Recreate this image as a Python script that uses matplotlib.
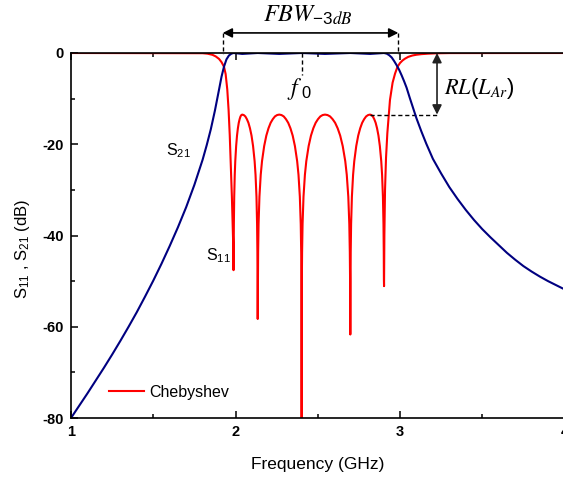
import matplotlib
matplotlib.use('Agg')
import matplotlib.pyplot as plt
from matplotlib.ticker import MultipleLocator

plt.rcParams['font.family'] = ['Liberation Sans', 'DejaVu Sans']
plt.rcParams['mathtext.default'] = 'regular'
plt.rcParams['axes.unicode_minus'] = False

# S21 (GHz, dB)
s21_freq = [1.0, 1.05, 1.10, 1.15, 1.20, 1.25, 1.30, 1.35, 1.40, 1.45, 1.50, 1.55, 1.60,
            1.65, 1.70, 1.75, 1.80, 1.825, 1.85, 1.875, 1.90, 1.915, 1.93, 1.945, 1.96,
            1.975, 1.988, 2.041, 2.135, 2.266, 2.402, 2.544, 2.698, 2.818, 2.903,
            2.92, 2.935, 2.95, 2.965, 2.98, 2.995, 3.01, 3.025, 3.04, 3.06, 3.08, 3.10,
            3.13, 3.16, 3.20, 3.25, 3.30, 3.35, 3.40, 3.45, 3.50, 3.55, 3.60, 3.65,
            3.70, 3.75, 3.80, 3.85, 3.90, 3.95, 4.0]
s21_db = [-80.0, -77.3, -74.6, -71.8, -69.0, -66.1, -63.1, -60.0, -56.8, -53.4, -49.9, -46.2, -42.3,
          -38.2, -33.8, -28.9, -23.4, -20.2, -16.7, -12.6, -8.0, -5.2, -3.0, -1.4, -0.55,
          -0.15, 0.0, -0.2, 0.0, -0.2, 0.0, -0.2, 0.0, -0.2, 0.0,
          -0.15, -0.5, -1.0, -1.8, -2.7, -3.7, -4.9, -6.2, -7.6, -9.9, -12.1, -14.3,
          -17.2, -19.9, -23.2, -26.4, -29.4, -32.0, -34.4, -36.6, -38.6, -40.4, -42.1, -43.8,
          -45.3, -46.7, -47.9, -49.0, -50.0, -50.9, -51.8]

# S11 (GHz, dB)
s11_freq = [1.0, 1.8, 1.83, 1.86, 1.88, 1.90, 1.915, 1.93, 1.94, 1.95, 1.958, 1.965,
            1.972, 1.978, 1.983, 1.9865, 1.988,
            1.9891, 1.9901, 1.9922, 1.9954, 1.9986, 2.0039, 2.0092, 2.0145, 2.0198,
            2.0251, 2.0304, 2.0357, 2.041,
            2.0504, 2.0598, 2.0692, 2.0786, 2.088, 2.0974, 2.1068, 2.1162, 2.1218,
            2.1275, 2.1312, 2.1331, 2.1341, 2.135,
            2.1363, 2.1376, 2.1402, 2.1455, 2.1533, 2.1612, 2.1743, 2.1874, 2.2005,
            2.2136, 2.2267, 2.2398, 2.2529, 2.266,
            2.2796, 2.2932, 2.3068, 2.3204, 2.334, 2.3476, 2.3612, 2.3748, 2.383,
            2.3911, 2.3966, 2.3993, 2.4006, 2.402,
            2.4034, 2.4048, 2.4077, 2.4134, 2.4219, 2.4304, 2.4446, 2.4588, 2.473,
            2.4872, 2.5014, 2.5156, 2.5298, 2.544,
            2.5594, 2.5748, 2.5902, 2.6056, 2.621, 2.6364, 2.6518, 2.6672, 2.6764,
            2.6857, 2.6918, 2.6949, 2.6965, 2.698,
            2.6992, 2.7004, 2.7028, 2.7076, 2.7148, 2.722, 2.734, 2.746, 2.758,
            2.770, 2.782, 2.794, 2.806, 2.818,
            2.8265, 2.835, 2.8435, 2.852, 2.8605, 2.869, 2.8775, 2.886, 2.8911,
            2.8962, 2.8996, 2.9013, 2.9021, 2.903,
            2.9039, 2.905, 2.909, 2.915, 2.923, 2.939, 2.955, 2.97, 2.985, 3.0,
            3.015, 3.03, 3.05, 3.075, 3.10, 3.13, 3.17, 3.22, 3.30, 4.0]
s11_db = [0.0, -0.05, -0.15, -0.4, -0.75, -1.3, -2.0, -3.0, -4.6, -8.0, -12.5, -18.0,
          -25.0, -31.5, -37.5, -42.5, -47.6,
          -43.6, -37.5, -31.5, -26.7, -23.7, -20.4, -18.1, -16.5, -15.3,
          -14.5, -13.9, -13.6, -13.5,
          -13.6, -13.9, -14.5, -15.3, -16.5, -18.1, -20.4, -23.7, -26.7,
          -31.5, -37.5, -43.6, -49.6, -58.3,
          -49.6, -43.6, -37.5, -31.5, -26.7, -23.7, -20.4, -18.1, -16.5,
          -15.3, -14.5, -13.9, -13.6, -13.5,
          -13.6, -13.9, -14.5, -15.3, -16.5, -18.1, -20.4, -23.7, -26.7,
          -31.5, -37.5, -43.6, -49.6, -85.0,
          -49.6, -43.6, -37.5, -31.5, -26.7, -23.7, -20.4, -18.1, -16.5,
          -15.3, -14.5, -13.9, -13.6, -13.5,
          -13.6, -13.9, -14.5, -15.3, -16.5, -18.1, -20.4, -23.7, -26.7,
          -31.5, -37.5, -43.6, -49.6, -61.7,
          -49.6, -43.6, -37.5, -31.5, -26.7, -23.7, -20.4, -18.1, -16.5,
          -15.3, -14.5, -13.9, -13.6, -13.5,
          -13.6, -13.9, -14.5, -15.3, -16.5, -18.1, -20.4, -23.7, -26.7,
          -31.5, -37.5, -43.6, -49.6, -51.1,
          -45.0, -40.0, -30.0, -23.0, -17.6, -10.3, -6.5, -4.5, -3.0, -2.2,
          -1.65, -1.25, -0.85, -0.55, -0.38, -0.25, -0.15, -0.07, -0.02, 0.0]

# annotation anchors (GHz / dB)
band_edges = [1.922, 2.990]
f0 = 2.402
ripple_db = -13.5
ripple_peak = 2.818
rl_x = 3.225

fig = plt.figure(figsize=(5.63, 4.79), dpi=100)
ax = fig.add_axes([71 / 563, 1 - 418 / 479, 493.5 / 563, 365 / 479])

ax.plot(s21_freq, s21_db, color='#000080', lw=1.5, zorder=3)
ax.plot(s11_freq, s11_db, color='#ff0000', lw=1.5, zorder=2, label='Chebyshev')

ax.set_xlim(1, 4)
ax.set_ylim(-80, 0)
ax.xaxis.set_major_locator(MultipleLocator(1))
ax.xaxis.set_minor_locator(MultipleLocator(0.5))
ax.yaxis.set_major_locator(MultipleLocator(20))
ax.yaxis.set_minor_locator(MultipleLocator(10))
ax.tick_params(which='both', direction='in', top=True, right=False, width=1.1)
ax.tick_params(which='major', length=5, labelsize=10.5, pad=5)
ax.tick_params(which='minor', length=3)
for lab in ax.get_xticklabels() + ax.get_yticklabels():
    lab.set_fontweight('bold')
for side in ['left', 'bottom', 'top']:
    ax.spines[side].set_linewidth(1.2)
    ax.spines[side].set_zorder(5)
ax.spines['right'].set_visible(False)

ax.set_xlabel('Frequency (GHz)', fontsize=12.5, labelpad=13)
ax.set_ylabel('S$_{11}$ , S$_{21}$ (dB)', fontsize=12)
ax.yaxis.set_label_coords(-0.079, 0.463)

ax.text(1.58, -22.5, 'S$_{21}$', fontsize=11.5)
ax.text(1.82, -45.5, 'S$_{11}$', fontsize=11.5)

leg = ax.legend(loc='center left', bbox_to_anchor=(0.077, 0.071), frameon=False,
                fontsize=11.5, handlelength=2.2, handletextpad=0.35,
                borderpad=0, borderaxespad=0)

mt = dict(math_fontfamily='stix')

# FBW arrow
ax.annotate('', xy=(band_edges[0], 4.4), xytext=(band_edges[1], 4.4),
            arrowprops=dict(arrowstyle='<|-|>', color='black', lw=1.2, mutation_scale=14,
                            shrinkA=0, shrinkB=0), annotation_clip=False)
for x in band_edges:
    ax.plot([x, x], [4.4, -0.3], ls='--', color='black', lw=1.0, clip_on=False, dashes=(3, 2))
ax.text(2.44, 8.3, r'$\mathit{FBW}_{-3\mathit{dB}}$', ha='center', va='center',
        fontsize=17.5, **mt)

# f0 marker
ax.plot([f0, f0], [0, -4.8], ls='--', color='black', lw=1.0, dashes=(3, 2))
ax.text(2.386, -7.9, r'$\mathit{f}_{\ 0}$', ha='center', va='center', fontsize=17, **mt)

# RL arrow
ax.plot([ripple_peak, rl_x], [ripple_db, ripple_db], ls='--', color='black', lw=1.0, dashes=(3, 2))
ax.annotate('', xy=(rl_x, 0), xytext=(rl_x, ripple_db),
            arrowprops=dict(arrowstyle='<|-|>', color='#222222', lw=1.2, mutation_scale=14,
                            shrinkA=0, shrinkB=0))
ax.text(3.27, -7.7, r'$\mathit{RL}(\mathit{L}_{\mathit{Ar}})$', ha='left', va='center',
        fontsize=16, **mt)

fig.savefig('out.png', dpi=100)
